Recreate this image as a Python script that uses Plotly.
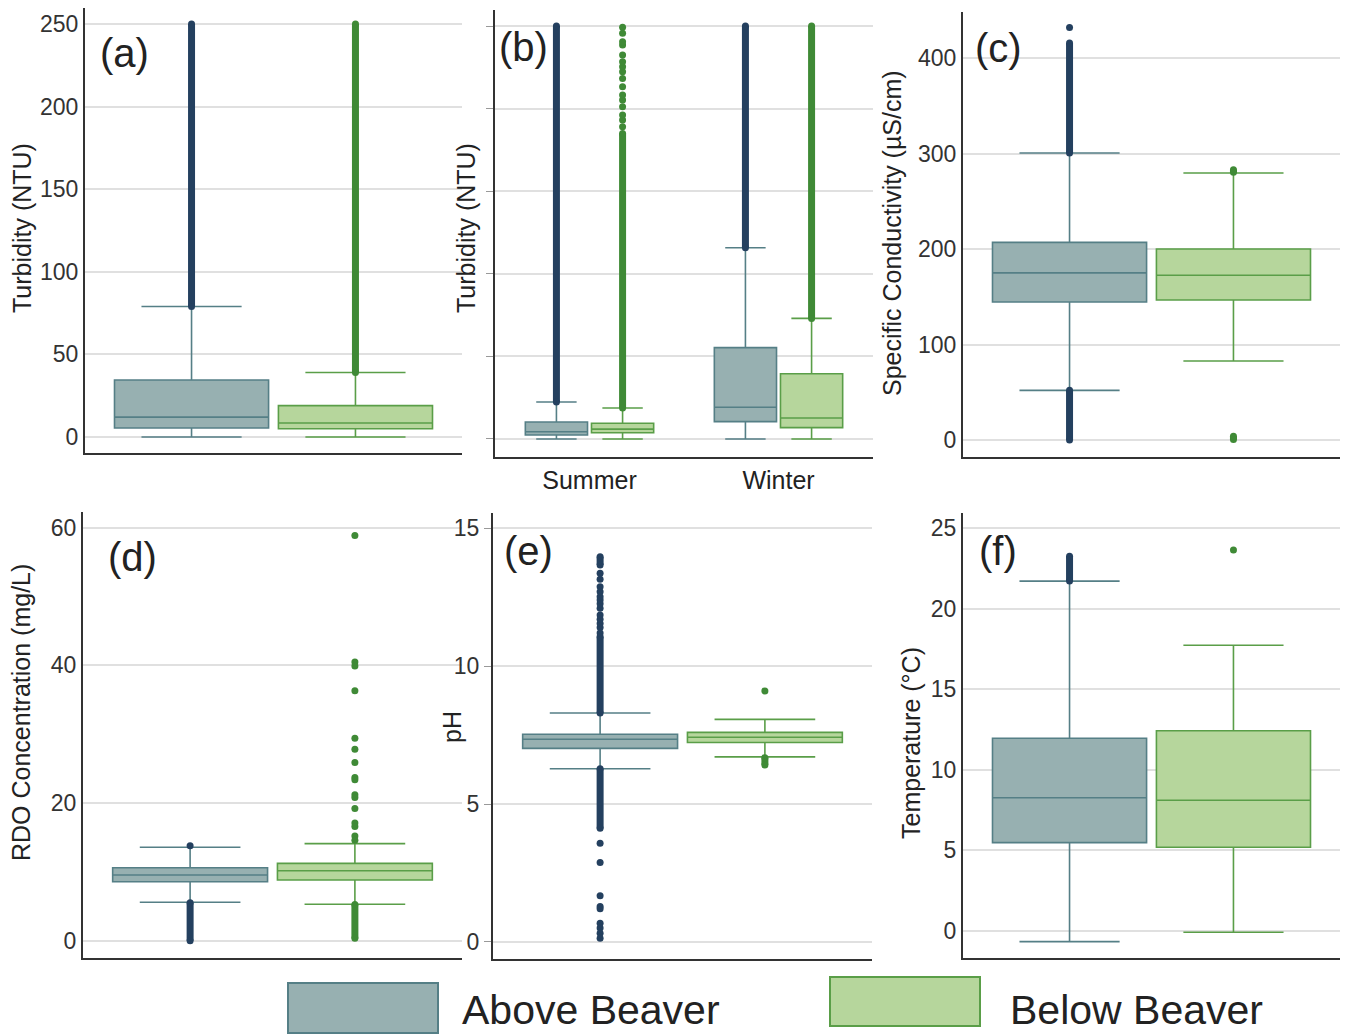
import plotly.graph_objects as go
from plotly.subplots import make_subplots

# ---------------- data ----------------
# box statistics order: lower whisker, Q1, median, Q3, upper whisker
LABEL_ABOVE = "Above Beaver"
LABEL_BELOW = "Below Beaver"

# (a) turbidity, all data
a_cats = ["all"]
a_above = [[0.0, 5.4, 12.0, 34.5, 79.0]]
a_below = [[0.0, 5.0, 8.5, 19.0, 39.0]]
a_above_bands = {"all": [[79.0, 250.0]]}
a_below_bands = {"all": [[39.0, 250.0]]}
a_above_pts = {"all": []}
a_below_pts = {"all": []}

# (b) turbidity by season
b_cats = ["Summer", "Winter"]
b_above = [[0.0, 2.4, 4.4, 10.3, 22.4], [0.0, 10.5, 19.2, 55.3, 115.8]]
b_below = [[0.0, 3.8, 6.0, 9.5, 18.8], [0.0, 6.9, 12.7, 39.5, 73.0]]
b_above_bands = {"Summer": [[22.4, 250.0]], "Winter": [[115.8, 250.0]]}
b_below_bands = {"Summer": [[18.8, 185.0]], "Winter": [[73.0, 250.0]]}
b_above_pts = {"Summer": [], "Winter": []}
b_below_pts = {"Summer": [189.0, 193.1, 196.1, 201.2, 205.2, 208.2, 213.3, 218.3,
                          222.3, 225.4, 228.4, 232.4, 238.5, 240.5, 245.6, 249.2],
               "Winter": []}

# (c) specific conductivity
c_cats = ["all"]
c_above = [[52.0, 144.5, 175.0, 207.0, 300.5]]
c_below = [[82.7, 146.6, 172.5, 200.0, 279.6]]
c_above_bands = {"all": [[0.0, 52.0], [300.5, 415.7]]}
c_below_bands = {"all": [[0.5, 4.0], [280.5, 283.0]]}
c_above_pts = {"all": [432.0]}
c_below_pts = {"all": []}

# (d) RDO concentration
d_cats = ["all"]
d_above = [[5.58, 8.57, 9.55, 10.6, 13.57]]
d_below = [[5.29, 8.82, 10.17, 11.24, 14.1]]
d_above_bands = {"all": [[0.0, 5.5]]}
d_below_bands = {"all": [[0.35, 5.25]]}
d_above_pts = {"all": [13.8]}
d_below_pts = {"all": [58.85, 40.5, 39.9, 36.3, 29.4, 27.8, 25.9, 23.7, 23.4,
                       21.2, 20.8, 19.2, 17.1, 16.6, 15.2, 14.6]}

# (e) pH
e_cats = ["all"]
e_above = [[6.28, 7.02, 7.35, 7.53, 8.30]]
e_below = [[6.71, 7.23, 7.42, 7.60, 8.07]]
e_above_bands = {"all": [[4.12, 6.28], [8.30, 11.07], [13.67, 13.97]]}
e_below_bands = {"all": [[6.42, 6.68]]}
e_above_pts = {"all": [11.2, 11.4, 11.55, 11.7, 11.86, 12.1, 12.26, 12.4, 12.52,
                       12.7, 12.88, 13.15, 13.37, 3.58, 2.88, 1.67, 1.28, 1.2,
                       0.68, 0.5, 0.31, 0.13]}
e_below_pts = {"all": [9.10]}

# (f) temperature
f_cats = ["all"]
f_above = [[-0.68, 5.47, 8.26, 11.95, 21.72]]
f_below = [[-0.1, 5.18, 8.1, 12.42, 17.73]]
f_above_bands = {"all": [[21.72, 23.27]]}
f_below_bands = {"all": []}
f_above_pts = {"all": []}
f_below_pts = {"all": [23.65]}

# ---------------- styling ----------------
ABOVE_FILL, ABOVE_LINE, ABOVE_PT = "#97b0b1", "#557f86", "#24405f"
BELOW_FILL, BELOW_LINE, BELOW_PT = "#b6d69c", "#5a9e48", "#3f8a36"
FONT = "Liberation Sans, Arial, sans-serif"
TXT = "#222222"
# the page body has an 8px margin; the figure is laid out in window pixels
OX, OY = 8, 8
W, H = 1340, 1028


def px_x(px):
    return (px - OX) / W


def px_y(py):
    return 1 - (py - OY) / H


fig = make_subplots(rows=2, cols=3)


def outlier_xy(cats, bands, pts):
    xs, ys = [], []
    for c in cats:
        for lo, hi in bands.get(c, []):
            xs += [c, c, None]
            ys += [lo, hi, None]
        for p in pts.get(c, []):
            xs += [c, None]
            ys += [p, None]
    return xs, ys


def add_panel(row, col, cats, above, below, ab, bb, ap, bp):
    for stats, name, fill, line, grp in [
        (above, LABEL_ABOVE, ABOVE_FILL, ABOVE_LINE, "A"),
        (below, LABEL_BELOW, BELOW_FILL, BELOW_LINE, "B"),
    ]:
        fig.add_trace(go.Box(
            x=cats,
            lowerfence=[s[0] for s in stats],
            q1=[s[1] for s in stats],
            median=[s[2] for s in stats],
            q3=[s[3] for s in stats],
            upperfence=[s[4] for s in stats],
            name=name, offsetgroup=grp,
            fillcolor=fill, line=dict(color=line, width=1.6),
            whiskerwidth=0.65, showlegend=False, hoverinfo="skip",
        ), row=row, col=col)
    for bands, pts, color, grp in [(ab, ap, ABOVE_PT, "A"), (bb, bp, BELOW_PT, "B")]:
        xs, ys = outlier_xy(cats, bands, pts)
        fig.add_trace(go.Scatter(
            x=xs, y=ys, mode="lines+markers", offsetgroup=grp,
            line=dict(color=color, width=7),
            marker=dict(color=color, size=7),
            connectgaps=False, showlegend=False, hoverinfo="skip",
        ), row=row, col=col)


add_panel(1, 1, a_cats, a_above, a_below, a_above_bands, a_below_bands, a_above_pts, a_below_pts)
add_panel(1, 2, b_cats, b_above, b_below, b_above_bands, b_below_bands, b_above_pts, b_below_pts)
add_panel(1, 3, c_cats, c_above, c_below, c_above_bands, c_below_bands, c_above_pts, c_below_pts)
add_panel(2, 1, d_cats, d_above, d_below, d_above_bands, d_below_bands, d_above_pts, d_below_pts)
add_panel(2, 2, e_cats, e_above, e_below, e_above_bands, e_below_bands, e_above_pts, e_below_pts)
add_panel(2, 3, f_cats, f_above, f_below, f_above_bands, f_below_bands, f_above_pts, f_below_pts)

# panel geometry in window pixels: (left, right, top, bottom), y range, y ticks
panels = [
    ((85, 462, 8, 453), [-9.7, 259.7], [0, 50, 100, 150, 200, 250], True),
    ((495, 873, 10, 457), [-10.9, 259.7], [0, 50, 100, 150, 200, 250], False),
    ((963, 1340, 12, 457), [-17.8, 448.2], [0, 100, 200, 300, 400], True),
    ((83, 462, 512, 958), [-2.51, 62.28], [0, 20, 40, 60], True),
    ((493, 872, 513, 959), [-0.62, 15.555], [0, 5, 10, 15], True),
    ((963, 1340, 513, 958), [-1.70, 25.95], [0, 5, 10, 15, 20, 25], True),
]

for i, ((l, r, t, b), yr, tv, labels) in enumerate(panels, start=1):
    sx = "" if i == 1 else str(i)
    fig.layout["xaxis" + sx].update(
        domain=[max(0, px_x(l)), min(1, px_x(r))], type="category",
        range=[-0.5, 1.5] if i == 2 else [-0.4025, 0.4025],
        showline=True, linecolor="#333333", linewidth=2,
        showgrid=False, zeroline=False, ticks="",
        showticklabels=(i == 2),
        tickfont=dict(family=FONT, size=25, color=TXT),
    )
    fig.layout["yaxis" + sx].update(
        domain=[max(0, px_y(b)), min(1, px_y(t))], range=yr,
        tickvals=tv, showticklabels=labels,
        showline=True, linecolor="#333333", linewidth=2,
        showgrid=True, gridcolor="#e0e0e0", gridwidth=2.2, zeroline=False,
        ticks="outside" if i in (2, 5) else "", ticklen=7, tickcolor="#999999",
        tickfont=dict(family=FONT, size=23, color="#333333"),
    )

annotations = []
# panel letters
letters = [("(a)", 98, 53), ("(b)", 497, 47), ("(c)", 973, 48),
           ("(d)", 106, 557), ("(e)", 502, 551), ("(f)", 977, 551)]
for txt, px, py in letters:
    annotations.append(dict(text=txt, x=px_x(px), y=px_y(py), xref="paper", yref="paper",
                            xanchor="left", yanchor="middle", showarrow=False,
                            font=dict(family=FONT, size=40, color=TXT)))
# y-axis titles
titles = [("Turbidity (NTU)", 22, 228), ("Turbidity (NTU)", 466, 228),
          ("Specific Conductivity (µS/cm)", 892, 233),
          ("RDO Concentration (mg/L)", 21, 713), ("pH", 452, 727),
          ("Temperature (°C)", 911, 743)]
for txt, px, py in titles:
    annotations.append(dict(text=txt, x=px_x(px), y=px_y(py), xref="paper", yref="paper",
                            xanchor="center", yanchor="middle", textangle=-90,
                            showarrow=False, font=dict(family=FONT, size=25, color=TXT)))

# legend (drawn manually)
shapes = []
legend_items = [(LABEL_ABOVE, ABOVE_FILL, ABOVE_LINE, 288, 438, 983, 1033, 460),
                (LABEL_BELOW, BELOW_FILL, BELOW_LINE, 830, 980, 977, 1026, 1008)]
for txt, fill, line, x0, x1, y0, y1, tx in legend_items:
    shapes.append(dict(type="rect", xref="paper", yref="paper",
                       x0=px_x(x0), x1=px_x(x1), y0=px_y(y1), y1=px_y(y0),
                       fillcolor=fill, line=dict(color=line, width=2)))
    annotations.append(dict(text=txt, x=px_x(tx), y=px_y(1010), xref="paper", yref="paper",
                            xanchor="left", yanchor="middle", showarrow=False,
                            font=dict(family=FONT, size=41, color=TXT)))

fig.update_layout(
    width=W, height=H, margin=dict(l=0, r=0, t=0, b=0),
    paper_bgcolor="white", plot_bgcolor="white",
    boxmode="group", boxgap=0.3, boxgroupgap=0.06,
    scattermode="group", scattergap=0.3,
    showlegend=False, annotations=annotations, shapes=shapes,
)

fig.write_html("out.html")
